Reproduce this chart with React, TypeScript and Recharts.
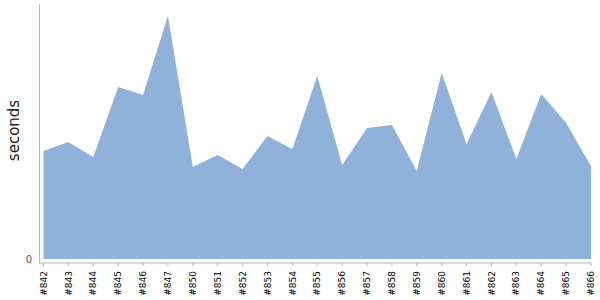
import { Area, AreaChart, XAxis, YAxis } from 'recharts';

// build numbers and their duration
const BUILDS = [
  '#842', '#843', '#844', '#845', '#846', '#847', '#850', '#851', '#852', '#853', '#854', '#855',
  '#856', '#857', '#858', '#859', '#860', '#861', '#862', '#863', '#864', '#865', '#866',
];
const SECONDS = [
  1080, 1170, 1020, 1720, 1640, 2430, 920, 1040, 900, 1230, 1100, 1830,
  940, 1310, 1340, 880, 1860, 1150, 1670, 1000, 1650, 1360, 930,
];
const Y_TICKS = [0];

const FILL = '#8fb1da';
const AXIS = '#b4b4b4';

const data = BUILDS.map((build, i) => ({ build, seconds: SECONDS[i] }));

function BuildTick(props: any) {
  const { x, y, payload } = props;
  return (
    <text
      x={0}
      y={0}
      dy="0.35em"
      textAnchor="end"
      fill="#000"
      fontSize={9}
      fontFamily="DejaVu Sans"
      transform={`translate(${x},${y}) rotate(-90)`}
    >
      {payload.value}
    </text>
  );
}

// y axis title, baseline sits a bit left of the tick labels
function SecondsLabel(props: any) {
  const { viewBox } = props;
  const cx = viewBox.x + 18.5;
  const cy = viewBox.y + viewBox.height / 2 - 3;
  return (
    <text
      x={0}
      y={0}
      textAnchor="middle"
      fill="#222"
      fontSize={15}
      fontFamily="DejaVu Sans"
      transform={`translate(${cx},${cy}) rotate(-90)`}
    >
      seconds
    </text>
  );
}

export default function App() {
  return (
    <div style={{ position: 'absolute', left: 0, top: 0, width: 600, height: 300, background: '#fff' }}>
      <AreaChart width={600} height={300} data={data} margin={{ top: 4, right: 9, bottom: 0, left: 0 }}>
        <XAxis
          dataKey="build"
          interval={0}
          height={37}
          padding={{ left: 4, right: 0 }}
          stroke={AXIS}
          tickSize={3}
          tickMargin={5}
          tick={<BuildTick />}
        />
        <YAxis
          type="number"
          domain={[-40, 2550]}
          ticks={Y_TICKS}
          width={39.5}
          stroke={AXIS}
          tickLine={false}
          tickSize={0}
          tickMargin={7.5}
          tick={{ fill: '#555', fontSize: 10, fontFamily: 'DejaVu Sans' }}
          label={<SecondsLabel />}
        />
        <Area
          type="linear"
          dataKey="seconds"
          stroke="none"
          fill={FILL}
          fillOpacity={1}
          isAnimationActive={false}
        />
      </AreaChart>
    </div>
  );
}
